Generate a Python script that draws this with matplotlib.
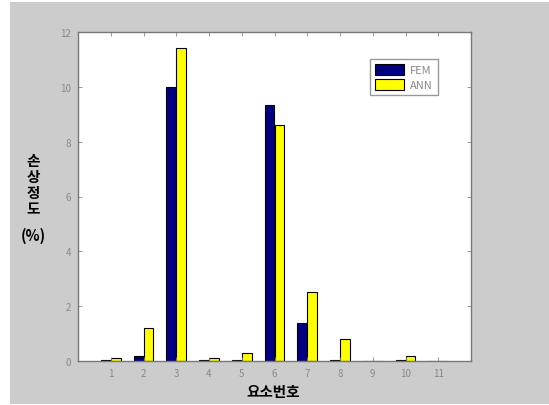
import matplotlib
matplotlib.use("Agg")
import matplotlib.pyplot as plt
from matplotlib.patches import Rectangle
import numpy as np

plt.rcParams['font.family'] = ['Noto Sans CJK KR', 'DejaVu Sans']

elements = [1, 2, 3, 4, 5, 6, 7, 8, 9, 10, 11]
fem = [0.05, 0.2, 10.0, 0.05, 0.02, 9.35, 1.4, 0.02, 0.0, 0.03, 0.0]
ann = [0.1, 1.2, 11.4, 0.1, 0.3, 8.6, 2.5, 0.8, 0.0, 0.2, 0.0]
yticks = [0, 2, 4, 6, 8, 10, 12]

fig = plt.figure(figsize=(5.49, 4.06), dpi=100)
fig.patch.set_facecolor('white')
fig.patches.append(Rectangle((10/549, 1/406), 1 - 10/549, 402/406,
                             transform=fig.transFigure, facecolor='#cccccc',
                             edgecolor='none', zorder=-10))

ax = fig.add_axes([78/549, 44/406, 393/549, 329/406])
ax.set_facecolor('white')

x = np.array(elements, dtype=float)
w = 0.3
ax.bar(x - w/2, fem, width=w, color='#000080', edgecolor='black', linewidth=0.8, label='FEM')
ax.bar(x + w/2, ann, width=w, color='#ffff00', edgecolor='black', linewidth=0.8, label='ANN')

ax.set_xlim(0, 12)
ax.set_ylim(0, 12)
ax.set_xticks(elements)
ax.set_xticklabels([str(e) for e in elements])
ax.set_yticks(yticks)
ax.tick_params(direction='in', top=True, right=True, length=3, width=0.6,
               labelsize=7, labelcolor='#888888', color='#888888', pad=5)
for s in ax.spines.values():
    s.set_color('#777777')
    s.set_linewidth(1.0)

leg = ax.legend(loc='upper right', bbox_to_anchor=(0.93, 0.935), fontsize=8,
                handlelength=2.6, handleheight=1.1, borderpad=0.45,
                labelspacing=0.35, handletextpad=0.6, fancybox=False,
                framealpha=1, edgecolor='#999999')
for t in leg.get_texts():
    t.set_color('#888888')

fig.text(273/549, 1 - 392/406, '요소번호', ha='center', va='center',
         fontsize=10.5, fontweight='bold', color='black')
fig.text(33/549, 1 - 185/406, '손\n상\n정\n도', ha='center', va='center',
         fontsize=10.5, fontweight='bold', color='black', linespacing=1.0)
fig.text(33/549, 1 - 236/406, '(%)', ha='center', va='center',
         fontsize=10.5, fontweight='bold', color='black')

fig.savefig('out.png', dpi=100)
